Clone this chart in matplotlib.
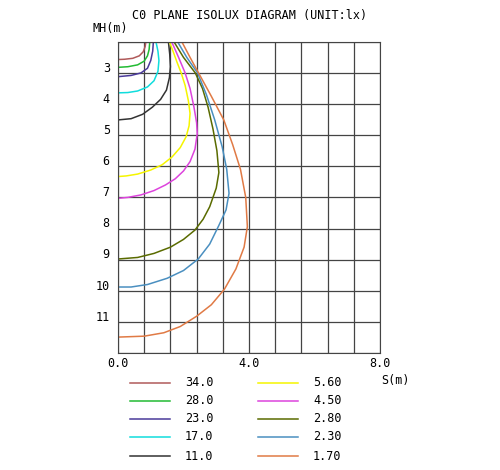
import matplotlib
matplotlib.use("Agg")
import matplotlib.pyplot as plt
import numpy as np

plt.rcParams["font.family"] = "DejaVu Sans Mono"

# isolux levels and colours
levels = ["34.0", "28.0", "23.0", "17.0", "11.0", "5.60", "4.50", "2.80", "2.30", "1.70"]
colors = ["#b05a5a", "#22bb33", "#4a3a9a", "#11dddd", "#333333",
          "#f5f500", "#dd44dd", "#5a6b00", "#4a8fc0", "#e07a45"]

# contour points (S, MH)
c34 = [(0.85, 2), (0.83, 2.15), (0.77, 2.32), (0.65, 2.45), (0.45, 2.53), (0.2, 2.56), (0, 2.57)]
c28 = [(0.97, 2), (0.95, 2.25), (0.9, 2.45), (0.8, 2.62), (0.6, 2.74), (0.3, 2.8), (0, 2.82)]
c23 = [(1.08, 2), (1.06, 2.3), (1.0, 2.6), (0.9, 2.85), (0.7, 3.0), (0.4, 3.08), (0, 3.12)]
c17 = [(1.16, 2), (1.22, 2.3), (1.25, 2.6), (1.22, 2.95), (1.1, 3.25), (0.9, 3.45),
       (0.6, 3.58), (0.3, 3.63), (0, 3.64)]
c11 = [(1.54, 2), (1.58, 2.4), (1.6, 2.8), (1.57, 3.15), (1.48, 3.55), (1.3, 3.85),
       (1.05, 4.1), (0.75, 4.33), (0.4, 4.47), (0, 4.51)]
c560 = [(1.57, 2), (1.68, 2.3), (1.8, 2.65), (1.93, 3.0), (2.05, 3.4), (2.15, 3.9),
        (2.2, 4.3), (2.17, 4.7), (2.08, 5.05), (1.9, 5.4), (1.65, 5.7), (1.35, 5.95),
        (1.0, 6.12), (0.6, 6.25), (0.25, 6.31), (0, 6.33)]
c450 = [(1.64, 2), (1.85, 2.5), (2.05, 3.0), (2.2, 3.5), (2.32, 4.1), (2.4, 4.6),
        (2.42, 4.95), (2.35, 5.45), (2.2, 5.85), (2.0, 6.15), (1.75, 6.4), (1.45, 6.6),
        (1.1, 6.78), (0.7, 6.92), (0.3, 7.0), (0, 7.03)]
c280 = [(1.71, 2), (2.0, 2.5), (2.36, 3.0), (2.58, 3.5), (2.75, 4.1), (2.9, 4.8),
        (3.02, 5.5), (3.08, 6.2), (3.0, 6.7), (2.8, 7.3), (2.6, 7.7), (2.35, 8.05),
        (2.0, 8.35), (1.6, 8.6), (1.1, 8.8), (0.6, 8.93), (0, 8.98)]
c230 = [(1.82, 2), (2.1, 2.5), (2.43, 3.0), (2.7, 3.7), (2.95, 4.5), (3.18, 5.37),
        (3.32, 6.1), (3.39, 6.87), (3.3, 7.4), (3.08, 7.9), (2.8, 8.5), (2.45, 8.98),
        (2.0, 9.35), (1.5, 9.6), (0.9, 9.8), (0.4, 9.88), (0, 9.88)]
c170 = [(1.95, 2), (2.2, 2.5), (2.46, 3.0), (2.85, 3.75), (3.23, 4.51), (3.5, 5.3),
        (3.74, 6.1), (3.9, 7.0), (3.95, 7.94), (3.85, 8.6), (3.6, 9.3), (3.25, 9.95),
        (2.85, 10.45), (2.4, 10.82), (1.9, 11.15), (1.4, 11.35), (0.8, 11.46), (0, 11.49)]
curves = [c34, c28, c23, c17, c11, c560, c450, c280, c230, c170]

fig = plt.figure(figsize=(5, 4.7), dpi=100)
ax = fig.add_axes([0.236, 0.249, 0.524, 0.662])
ax.set_xlim(0, 8)
ax.set_ylim(12, 2)
for x in np.arange(0, 8.01, 0.8):
    ax.axvline(x, color="#444444", lw=0.9)
for y in range(2, 13):
    ax.axhline(y, color="#444444", lw=0.9)
for s in ax.spines.values():
    s.set_color("#444444")
ax.set_xticks([])
ax.set_yticks([])

for pts, c in zip(curves, colors):
    xs, ys = zip(*pts)
    ax.plot(xs, ys, color=c, lw=1.1)

for v in range(3, 12):
    ax.text(-0.25, v - 0.15, str(v), ha="right", va="center", fontsize=8.5)
for v, s in [(0, "0.0"), (4, "4.0"), (8, "8.0")]:
    ax.text(v, 12.35, s, ha="center", va="center", fontsize=8.5)

fig.text(0.5, 0.968, "C0 PLANE ISOLUX DIAGRAM (UNIT:lx)", ha="center", va="center", fontsize=8.5)
fig.text(0.185, 0.94, "MH(m)", ha="left", va="center", fontsize=8.5)
fig.text(0.79, 0.19, "S(m)", ha="center", va="center", fontsize=8.5)

# legend area in pixel coords
lg = fig.add_axes([0, 0, 1, 1], facecolor="none")
lg.set_xlim(0, 500)
lg.set_ylim(470, 0)
lg.axis("off")
rows = [383, 401, 419, 437, 456]
for i, (lab, c) in enumerate(zip(levels, colors)):
    col, r = divmod(i, 5)
    x0 = 130 + col * 128
    lg.plot([x0, x0 + 40], [rows[r], rows[r]], color=c, lw=1.1)
    lg.text(x0 + 55, rows[r], lab, ha="left", va="center", fontsize=8.5)

fig.savefig("out.png", dpi=100)
